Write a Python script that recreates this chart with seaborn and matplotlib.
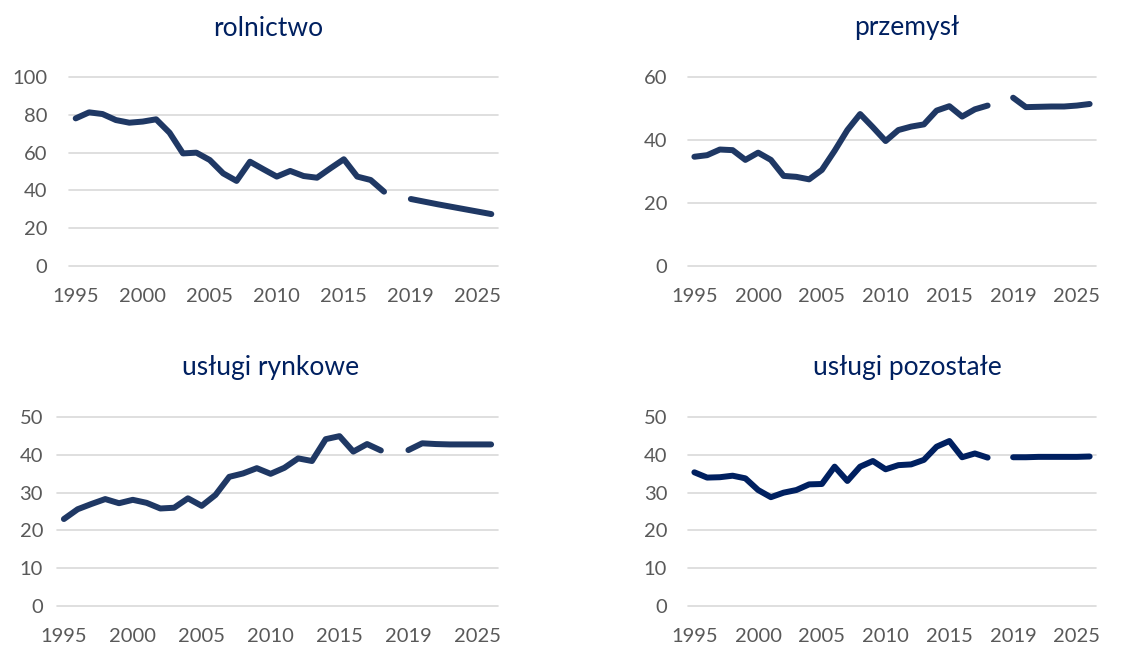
import matplotlib
matplotlib.use("Agg")
import matplotlib.pyplot as plt
import seaborn as sns
import pandas as pd

# data
hist_years = list(range(1995, 2019))
tick_pos = [0, 5, 10, 15, 20, 25, 30]
tick_labels = ["1995", "2000", "2005", "2010", "2015", "2019", "2025"]

rolnictwo_hist = [78.2, 81.4, 80.5, 77.3, 75.9, 76.5, 77.7, 70.6, 59.6, 60.0, 56.1, 49.0,
                  45.0, 55.2, 51.2, 47.3, 50.3, 47.6, 46.7, 51.7, 56.5, 47.3, 45.5, 39.3]
rolnictwo_prog = [35.4, 34.0, 32.6, 31.3, 30.0, 28.7, 27.4]

przemysl_hist = [34.7, 35.2, 37.0, 36.8, 33.7, 36.0, 33.7, 28.6, 28.3, 27.5, 30.5, 36.6,
                 43.2, 48.3, 44.1, 39.7, 43.2, 44.3, 45.0, 49.4, 50.8, 47.5, 49.8, 51.0]
przemysl_prog = [53.5, 50.5, 50.6, 50.7, 50.7, 51.0, 51.5]

rynkowe_hist = [23.0, 25.6, 27.0, 28.3, 27.2, 28.1, 27.3, 25.8, 26.0, 28.5, 26.5, 29.4,
                34.2, 35.1, 36.5, 35.0, 36.6, 39.1, 38.4, 44.2, 45.0, 40.9, 42.9, 41.2]
rynkowe_prog = [41.3, 43.1, 42.9, 42.8, 42.8, 42.8, 42.8]

pozostale_hist = [35.4, 34.0, 34.1, 34.5, 33.8, 30.7, 28.8, 30.0, 30.7, 32.2, 32.3, 36.9,
                  33.1, 36.9, 38.4, 36.2, 37.3, 37.5, 38.7, 42.2, 43.7, 39.4, 40.4, 39.3]
pozostale_prog = [39.4, 39.4, 39.5, 39.5, 39.5, 39.5, 39.6]

# category positions: 24 historical years, one empty slot, 7 forecast points
x_hist = list(range(len(hist_years)))
x_prog = list(range(len(hist_years) + 1, len(hist_years) + 1 + len(rolnictwo_prog)))

sns.set_style("white")
plt.rcParams["font.family"] = ["Lato", "DejaVu Sans"]

W, H = 1144, 646
fig = plt.figure(figsize=(W / 100, H / 100), dpi=100)

panels = [
    # title, hist, prog, ymax, step, color, (left, top, right, bottom) px, title xy px, ypad
    ("rolnictwo", rolnictwo_hist, rolnictwo_prog, 100, 20, "#1F3864", (69, 77.3, 498, 265.7), (268, 28), 15.5),
    ("przemysł", przemysl_hist, przemysl_prog, 60, 20, "#1F3864", (688, 77.3, 1096, 265.7), (907, 28), 15),
    ("usługi rynkowe", rynkowe_hist, rynkowe_prog, 50, 10, "#1F3864", (57, 417.3, 498, 605.7), (271, 367), 10),
    ("usługi pozostałe", pozostale_hist, pozostale_prog, 50, 10, "#002060", (688, 417.3, 1096, 605.7), (907, 367), 15),
]

for title, hist, prog, ymax, step, color, box, txy, ypad in panels:
    l, t, r, b = box
    ax = fig.add_axes([l / W, 1 - b / H, (r - l) / W, (b - t) / H])
    df_h = pd.DataFrame({"x": x_hist, "y": hist})
    df_p = pd.DataFrame({"x": x_prog, "y": prog})
    sns.lineplot(data=df_h, x="x", y="y", ax=ax, color=color, linewidth=4.3,
                 solid_capstyle="round", solid_joinstyle="round")
    sns.lineplot(data=df_p, x="x", y="y", ax=ax, color=color, linewidth=4.3,
                 solid_capstyle="round", solid_joinstyle="round")
    ax.set_xlim(-0.5, 31.5)
    ax.set_ylim(0, ymax)
    ax.set_yticks(list(range(0, ymax + 1, step)))
    ax.set_xticks(tick_pos)
    ax.set_xticklabels(tick_labels)
    ax.set_xlabel("")
    ax.set_ylabel("")
    ax.grid(axis="y", color="#D9D9D9", linewidth=1.2)
    ax.set_axisbelow(True)
    for gl in ax.get_ygridlines():
        gl.set_clip_on(False)
    sns.despine(ax=ax, left=True, bottom=True)
    ax.tick_params(axis="both", length=0, labelsize=14.5, labelcolor="#595959")
    ax.tick_params(axis="y", pad=ypad)
    ax.tick_params(axis="x", pad=16)
    fig.text(txy[0] / W, 1 - txy[1] / H, title, ha="center", va="center",
             fontsize=19, color="#002060")

fig.savefig("out.png", dpi=100)
